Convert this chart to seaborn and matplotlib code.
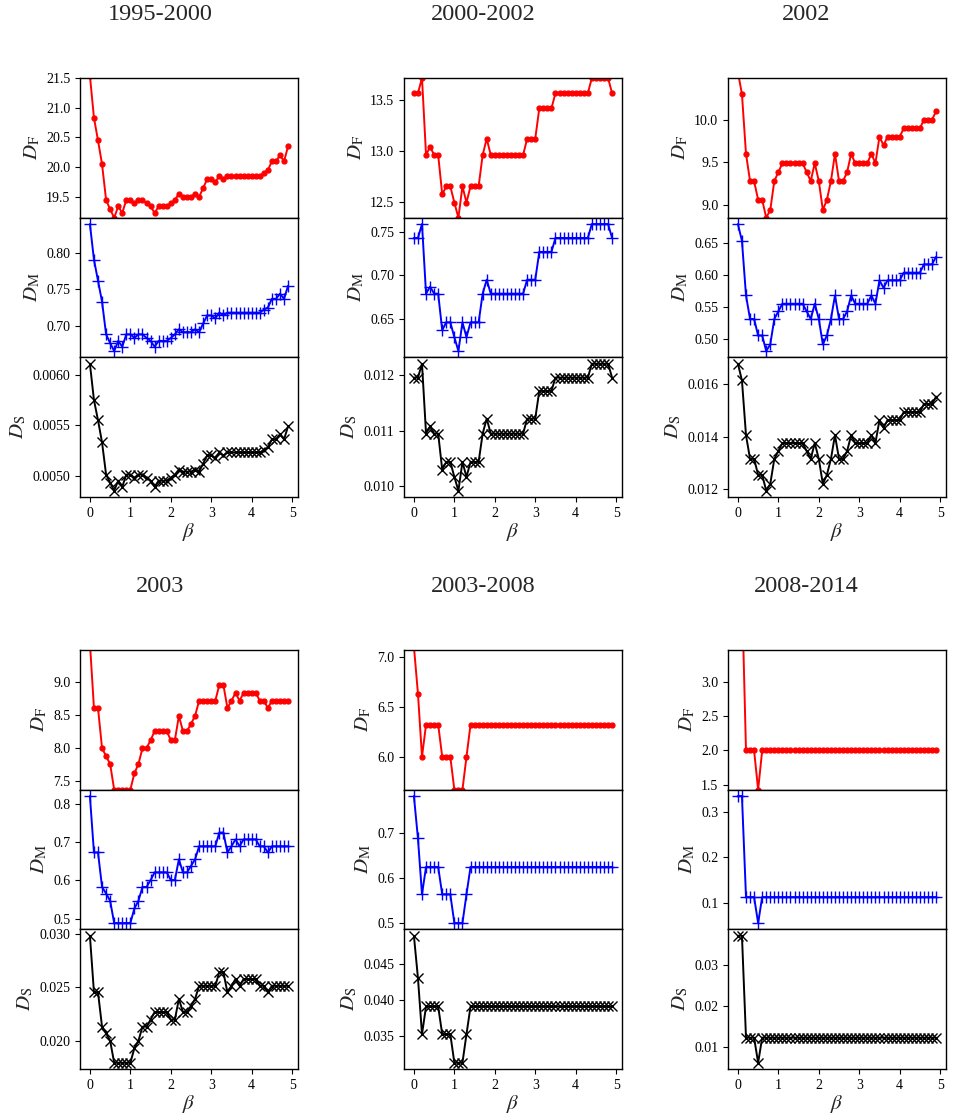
import matplotlib
matplotlib.use("Agg")
import matplotlib.pyplot as plt
import seaborn as sns

beta = [0.0, 0.1, 0.2, 0.3, 0.4, 0.5, 0.6, 0.7, 0.8, 0.9,
        1.0, 1.1, 1.2, 1.3, 1.4, 1.5, 1.6, 1.7, 1.8, 1.9,
        2.0, 2.1, 2.2, 2.3, 2.4, 2.5, 2.6, 2.7, 2.8, 2.9,
        3.0, 3.1, 3.2, 3.3, 3.4, 3.5, 3.6, 3.7, 3.8, 3.9,
        4.0, 4.1, 4.2, 4.3, 4.4, 4.5, 4.6, 4.7, 4.8, 4.9]

titles = ["1995-2000", "2000-2002", "2002", "2003", "2003-2008", "2008-2014"]

# ---- 1995-2000 ----
DF_1 = [21.54, 20.83, 20.45, 20.05, 19.45, 19.29, 19.15, 19.34, 19.23, 19.45,
        19.45, 19.39, 19.45, 19.45, 19.39, 19.34, 19.23, 19.34, 19.34, 19.34,
        19.39, 19.45, 19.55, 19.50, 19.50, 19.50, 19.55, 19.50, 19.65, 19.80,
        19.80, 19.75, 19.85, 19.80, 19.85, 19.85, 19.85, 19.85, 19.85, 19.85,
        19.85, 19.85, 19.85, 19.90, 19.95, 20.10, 20.10, 20.20, 20.10, 20.35]
DM_1 = [0.840, 0.791, 0.762, 0.733, 0.688, 0.676, 0.665, 0.679, 0.671, 0.688,
        0.688, 0.683, 0.688, 0.688, 0.683, 0.679, 0.671, 0.679, 0.679, 0.679,
        0.683, 0.688, 0.695, 0.691, 0.691, 0.691, 0.695, 0.691, 0.703, 0.714,
        0.714, 0.710, 0.718, 0.714, 0.718, 0.718, 0.718, 0.718, 0.718, 0.718,
        0.718, 0.718, 0.718, 0.722, 0.725, 0.737, 0.737, 0.744, 0.737, 0.755]
DS_1 = [0.00611, 0.00575, 0.00555, 0.00533, 0.00501, 0.00493, 0.00485, 0.00495, 0.00489, 0.00501,
        0.00501, 0.00498, 0.00501, 0.00501, 0.00498, 0.00495, 0.00489, 0.00495, 0.00495, 0.00495,
        0.00498, 0.00501, 0.00506, 0.00504, 0.00504, 0.00504, 0.00506, 0.00504, 0.00512, 0.00520,
        0.00520, 0.00517, 0.00523, 0.00520, 0.00523, 0.00523, 0.00523, 0.00523, 0.00523, 0.00523,
        0.00523, 0.00523, 0.00523, 0.00525, 0.00528, 0.00536, 0.00536, 0.00541, 0.00536, 0.00549]

# ---- 2000-2002 ----
DF_2 = [13.57, 13.57, 13.72, 12.96, 13.04, 12.96, 12.96, 12.57, 12.65, 12.65,
        12.49, 12.34, 12.65, 12.49, 12.65, 12.65, 12.65, 12.96, 13.12, 12.96,
        12.96, 12.96, 12.96, 12.96, 12.96, 12.96, 12.96, 12.96, 13.12, 13.12,
        13.12, 13.42, 13.42, 13.42, 13.42, 13.57, 13.57, 13.57, 13.57, 13.57,
        13.57, 13.57, 13.57, 13.57, 13.72, 13.72, 13.72, 13.72, 13.72, 13.57]
DM_2 = [0.743, 0.743, 0.759, 0.679, 0.687, 0.679, 0.679, 0.637, 0.646, 0.646,
        0.629, 0.613, 0.646, 0.629, 0.646, 0.646, 0.646, 0.679, 0.695, 0.679,
        0.679, 0.679, 0.679, 0.679, 0.679, 0.679, 0.679, 0.679, 0.695, 0.695,
        0.695, 0.727, 0.727, 0.727, 0.727, 0.743, 0.743, 0.743, 0.743, 0.743,
        0.743, 0.743, 0.743, 0.743, 0.759, 0.759, 0.759, 0.759, 0.759, 0.743]
DS_2 = [0.01196, 0.01196, 0.01221, 0.01095, 0.01108, 0.01095, 0.01095, 0.01030, 0.01044, 0.01044,
        0.01017, 0.00992, 0.01044, 0.01017, 0.01044, 0.01044, 0.01044, 0.01095, 0.01122, 0.01095,
        0.01095, 0.01095, 0.01095, 0.01095, 0.01095, 0.01095, 0.01095, 0.01095, 0.01122, 0.01122,
        0.01122, 0.01172, 0.01172, 0.01172, 0.01172, 0.01196, 0.01196, 0.01196, 0.01196, 0.01196,
        0.01196, 0.01196, 0.01196, 0.01196, 0.01221, 0.01221, 0.01221, 0.01221, 0.01221, 0.01196]

# ---- 2002 ----
DF_3 = [10.56, 10.30, 9.60, 9.28, 9.28, 9.06, 9.06, 8.85, 8.94, 9.28,
        9.385, 9.49, 9.49, 9.49, 9.49, 9.49, 9.49, 9.385, 9.28, 9.49,
        9.28, 8.94, 9.06, 9.28, 9.60, 9.28, 9.28, 9.385, 9.60, 9.49,
        9.49, 9.49, 9.49, 9.60, 9.49, 9.80, 9.70, 9.80, 9.80, 9.80,
        9.80, 9.90, 9.90, 9.90, 9.90, 9.90, 10.00, 10.00, 10.00, 10.10]
DM_3 = [0.6805, 0.654, 0.568, 0.531, 0.531, 0.505, 0.505, 0.4805, 0.491, 0.531,
        0.543, 0.555, 0.555, 0.555, 0.555, 0.555, 0.555, 0.543, 0.531, 0.555,
        0.531, 0.491, 0.505, 0.531, 0.568, 0.531, 0.531, 0.543, 0.568, 0.555,
        0.555, 0.555, 0.555, 0.568, 0.555, 0.592, 0.580, 0.592, 0.592, 0.592,
        0.592, 0.604, 0.604, 0.604, 0.604, 0.604, 0.617, 0.617, 0.617, 0.629]
DS_3 = [0.01679, 0.01615, 0.01405, 0.01314, 0.01314, 0.01253, 0.01253, 0.01192, 0.01218, 0.01314,
        0.01344, 0.01375, 0.01375, 0.01375, 0.01375, 0.01375, 0.01375, 0.01344, 0.01314, 0.01375,
        0.01314, 0.01218, 0.01253, 0.01314, 0.01405, 0.01314, 0.01314, 0.01344, 0.01405, 0.01375,
        0.01375, 0.01375, 0.01375, 0.01405, 0.01375, 0.01463, 0.01433, 0.01463, 0.01463, 0.01463,
        0.01463, 0.01494, 0.01494, 0.01494, 0.01494, 0.01494, 0.01525, 0.01525, 0.01525, 0.01553]

# ---- 2003 ----
DF_4 = [9.60, 8.61, 8.61, 8.00, 7.88, 7.76, 7.37, 7.37, 7.37, 7.37,
        7.37, 7.62, 7.76, 8.00, 8.00, 8.12, 8.26, 8.26, 8.26, 8.26,
        8.12, 8.12, 8.49, 8.26, 8.26, 8.37, 8.49, 8.72, 8.72, 8.72,
        8.72, 8.72, 8.96, 8.96, 8.61, 8.72, 8.84, 8.72, 8.84, 8.84,
        8.84, 8.84, 8.72, 8.72, 8.61, 8.72, 8.72, 8.72, 8.72, 8.72]
DM_4 = [0.820, 0.673, 0.673, 0.583, 0.566, 0.547, 0.489, 0.489, 0.489, 0.489,
        0.489, 0.527, 0.547, 0.583, 0.583, 0.601, 0.621, 0.621, 0.621, 0.621,
        0.601, 0.601, 0.655, 0.621, 0.621, 0.638, 0.655, 0.689, 0.689, 0.689,
        0.689, 0.689, 0.725, 0.725, 0.673, 0.689, 0.707, 0.689, 0.707, 0.707,
        0.707, 0.707, 0.689, 0.689, 0.673, 0.689, 0.689, 0.689, 0.689, 0.689]
DS_4 = [0.02984, 0.02453, 0.02453, 0.02130, 0.02068, 0.01999, 0.01792, 0.01792, 0.01792, 0.01792,
        0.01792, 0.01929, 0.01999, 0.02130, 0.02130, 0.02196, 0.02268, 0.02268, 0.02268, 0.02268,
        0.02196, 0.02196, 0.02391, 0.02268, 0.02268, 0.02327, 0.02391, 0.02514, 0.02514, 0.02514,
        0.02514, 0.02514, 0.02642, 0.02642, 0.02453, 0.02514, 0.02578, 0.02514, 0.02578, 0.02578,
        0.02578, 0.02578, 0.02514, 0.02514, 0.02453, 0.02514, 0.02514, 0.02514, 0.02514, 0.02514]

# ---- 2003-2008 ----
DF_5 = [7.11, 6.635, 6.00, 6.324, 6.324, 6.324, 6.324, 6.00, 6.00, 6.00,
        5.669, 5.669, 5.669, 6.00, 6.324, 6.324, 6.324, 6.324, 6.324, 6.324,
        6.324, 6.324, 6.324, 6.324, 6.324, 6.324, 6.324, 6.324, 6.324, 6.324,
        6.324, 6.324, 6.324, 6.324, 6.324, 6.324, 6.324, 6.324, 6.324, 6.324,
        6.324, 6.324, 6.324, 6.324, 6.324, 6.324, 6.324, 6.324, 6.324, 6.324]
DM_5 = [0.782, 0.6875, 0.563, 0.624, 0.624, 0.624, 0.624, 0.563, 0.563, 0.563,
        0.499, 0.499, 0.499, 0.563, 0.624, 0.624, 0.624, 0.624, 0.624, 0.624,
        0.624, 0.624, 0.624, 0.624, 0.624, 0.624, 0.624, 0.624, 0.624, 0.624,
        0.624, 0.624, 0.624, 0.624, 0.624, 0.624, 0.624, 0.624, 0.624, 0.624,
        0.624, 0.624, 0.624, 0.624, 0.624, 0.624, 0.624, 0.624, 0.624, 0.624]
DS_5 = [0.04886, 0.0430, 0.03523, 0.03907, 0.03907, 0.03907, 0.03907, 0.03523, 0.03523, 0.03523,
        0.03128, 0.03128, 0.03128, 0.03523, 0.03907, 0.03907, 0.03907, 0.03907, 0.03907, 0.03907,
        0.03907, 0.03907, 0.03907, 0.03907, 0.03907, 0.03907, 0.03907, 0.03907, 0.03907, 0.03907,
        0.03907, 0.03907, 0.03907, 0.03907, 0.03907, 0.03907, 0.03907, 0.03907, 0.03907, 0.03907,
        0.03907, 0.03907, 0.03907, 0.03907, 0.03907, 0.03907, 0.03907, 0.03907, 0.03907, 0.03907]

# ---- 2008-2014 ----
DF_6 = [4.30, 4.30, 2.00, 2.00, 2.00, 1.43, 2.00, 2.00, 2.00, 2.00,
        2.00, 2.00, 2.00, 2.00, 2.00, 2.00, 2.00, 2.00, 2.00, 2.00,
        2.00, 2.00, 2.00, 2.00, 2.00, 2.00, 2.00, 2.00, 2.00, 2.00,
        2.00, 2.00, 2.00, 2.00, 2.00, 2.00, 2.00, 2.00, 2.00, 2.00,
        2.00, 2.00, 2.00, 2.00, 2.00, 2.00, 2.00, 2.00, 2.00, 2.00]
DM_6 = [0.335, 0.335, 0.112, 0.112, 0.112, 0.0547, 0.112, 0.112, 0.112, 0.112,
        0.112, 0.112, 0.112, 0.112, 0.112, 0.112, 0.112, 0.112, 0.112, 0.112,
        0.112, 0.112, 0.112, 0.112, 0.112, 0.112, 0.112, 0.112, 0.112, 0.112,
        0.112, 0.112, 0.112, 0.112, 0.112, 0.112, 0.112, 0.112, 0.112, 0.112,
        0.112, 0.112, 0.112, 0.112, 0.112, 0.112, 0.112, 0.112, 0.112, 0.112]
DS_6 = [0.03715, 0.03715, 0.01236, 0.01236, 0.01236, 0.00626, 0.01236, 0.01236, 0.01236, 0.01236,
        0.01236, 0.01236, 0.01236, 0.01236, 0.01236, 0.01236, 0.01236, 0.01236, 0.01236, 0.01236,
        0.01236, 0.01236, 0.01236, 0.01236, 0.01236, 0.01236, 0.01236, 0.01236, 0.01236, 0.01236,
        0.01236, 0.01236, 0.01236, 0.01236, 0.01236, 0.01236, 0.01236, 0.01236, 0.01236, 0.01236,
        0.01236, 0.01236, 0.01236, 0.01236, 0.01236, 0.01236, 0.01236, 0.01236, 0.01236, 0.01236]

DF_all = [DF_1, DF_2, DF_3, DF_4, DF_5, DF_6]
DM_all = [DM_1, DM_2, DM_3, DM_4, DM_5, DM_6]
DS_all = [DS_1, DS_2, DS_3, DS_4, DS_5, DS_6]
DF_ylim = [(19.15, 21.50), (12.34, 13.72), (8.85, 10.49), (7.37, 9.49), (5.669, 7.074), (1.43, 3.46)]

sns.set_style("ticks")
plt.rcParams.update({
    "font.family": ["Liberation Serif", "DejaVu Serif"],
    "mathtext.fontset": "stix",
    "xtick.labelsize": 10,
    "ytick.labelsize": 10,
    "axes.labelsize": 15,
    "axes.edgecolor": "black",
    "axes.linewidth": 1.0,
    "xtick.color": "black",
    "ytick.color": "black",
    "xtick.major.size": 3.5,
    "ytick.major.size": 3.5,
})

W, H = 967, 1113
fig = plt.figure(figsize=(W / 100, H / 100), dpi=100)

col_left = [80, 404, 728]
col_title_x = [160, 483, 806]
row_top = [78, 650]
row_title_y = [15, 587]
ax_w = 218
ax_h = 139.7

styles = [
    dict(color="red", marker=".", markersize=7, markeredgecolor="red", markeredgewidth=1.0),
    dict(color="blue", marker="+", markersize=8, markeredgecolor="blue", markeredgewidth=1.0),
    dict(color="black", marker="x", markersize=6.5, markeredgecolor="black", markeredgewidth=1.0),
]
ylabels = [r"$D_{\mathrm{F}}$", r"$D_{\mathrm{M}}$", r"$D_{\mathrm{S}}$"]

for p in range(6):
    r, c = divmod(p, 3)
    series = [DF_all[p], DM_all[p], DS_all[p]]
    left = col_left[c] / W
    for k in range(3):
        top_px = row_top[r] + k * ax_h
        bottom = 1 - (top_px + ax_h) / H
        ax = fig.add_axes([left, bottom, ax_w / W, ax_h / H])
        sns.lineplot(x=beta, y=series[k], ax=ax, linewidth=1.4, **styles[k])
        ax.set_xlim(-0.245, 5.145)
        ax.set_xticks([0, 1, 2, 3, 4, 5])
        if k == 0:
            ax.set_ylim(*DF_ylim[p])
        ax.set_ylabel(ylabels[k], labelpad=3)
        if k < 2:
            ax.tick_params(axis="x", bottom=False, labelbottom=False)
            ax.set_xlabel("")
        else:
            ax.set_xlabel(r"$\beta$", labelpad=1)
        for s in ax.spines.values():
            s.set_visible(True)
    fig.text(col_title_x[c] / W, 1 - row_title_y[r] / H, titles[p],
             ha="center", va="center", fontsize=17.5)

fig.savefig("out.png", dpi=100)
